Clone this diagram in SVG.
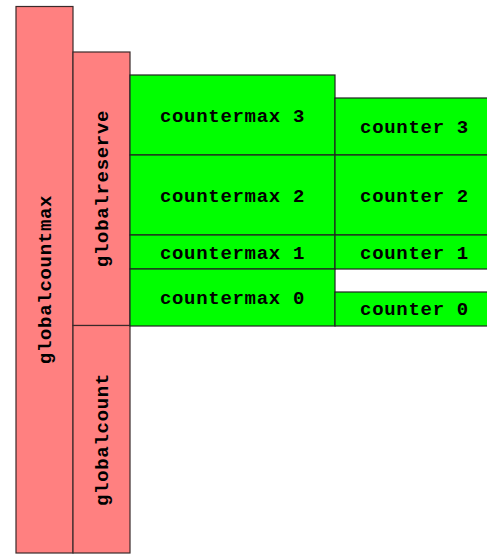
<svg xmlns="http://www.w3.org/2000/svg" width="487" height="554" viewBox="0 0 487 554">
<style>
.g{fill:#ff8080;stroke:#3a2a2a;stroke-width:1.2}
.c{fill:#00ff00;stroke:#222;stroke-width:1.2}
text{font-family:"Liberation Mono","Courier New",monospace;font-weight:bold;font-size:19px;letter-spacing:0.7px;text-anchor:middle;fill:#000}
</style>
<rect width="487" height="554" fill="#fff"/>
<g id="globalcountmax"><rect class="g" x="16" y="6.5" width="57" height="546.5"/><text transform="translate(50.5,279.5) rotate(-90)">globalcountmax</text></g>
<g id="globalreserve"><rect class="g" x="73" y="52" width="57" height="273.5"/><text transform="translate(107.5,188.5) rotate(-90)">globalreserve</text></g>
<g id="globalcount"><rect class="g" x="73" y="325.5" width="57" height="227.5"/><text transform="translate(107.5,439.5) rotate(-90)">globalcount</text></g>
<g id="countermax3"><rect class="c" x="130" y="75" width="205" height="80"/><text x="232.5" y="121.5">countermax 3</text></g>
<g id="counter3"><rect class="c" x="335" y="98" width="160" height="57"/><text x="414.5" y="132.5">counter 3</text></g>
<g id="countermax2"><rect class="c" x="130" y="155" width="205" height="80"/><text x="232.5" y="201.5">countermax 2</text></g>
<g id="counter2"><rect class="c" x="335" y="155" width="160" height="80"/><text x="414.5" y="201.5">counter 2</text></g>
<g id="countermax1"><rect class="c" x="130" y="235" width="205" height="34"/><text x="232.5" y="258.5">countermax 1</text></g>
<g id="counter1"><rect class="c" x="335" y="235" width="160" height="34"/><text x="414.5" y="258.5">counter 1</text></g>
<g id="countermax0"><rect class="c" x="130" y="269" width="205" height="57"/><text x="232.5" y="304">countermax 0</text></g>
<g id="counter0"><rect class="c" x="335" y="292" width="160" height="34"/><text x="414.5" y="315">counter 0</text></g>
<g id="connectors"></g>
</svg>
